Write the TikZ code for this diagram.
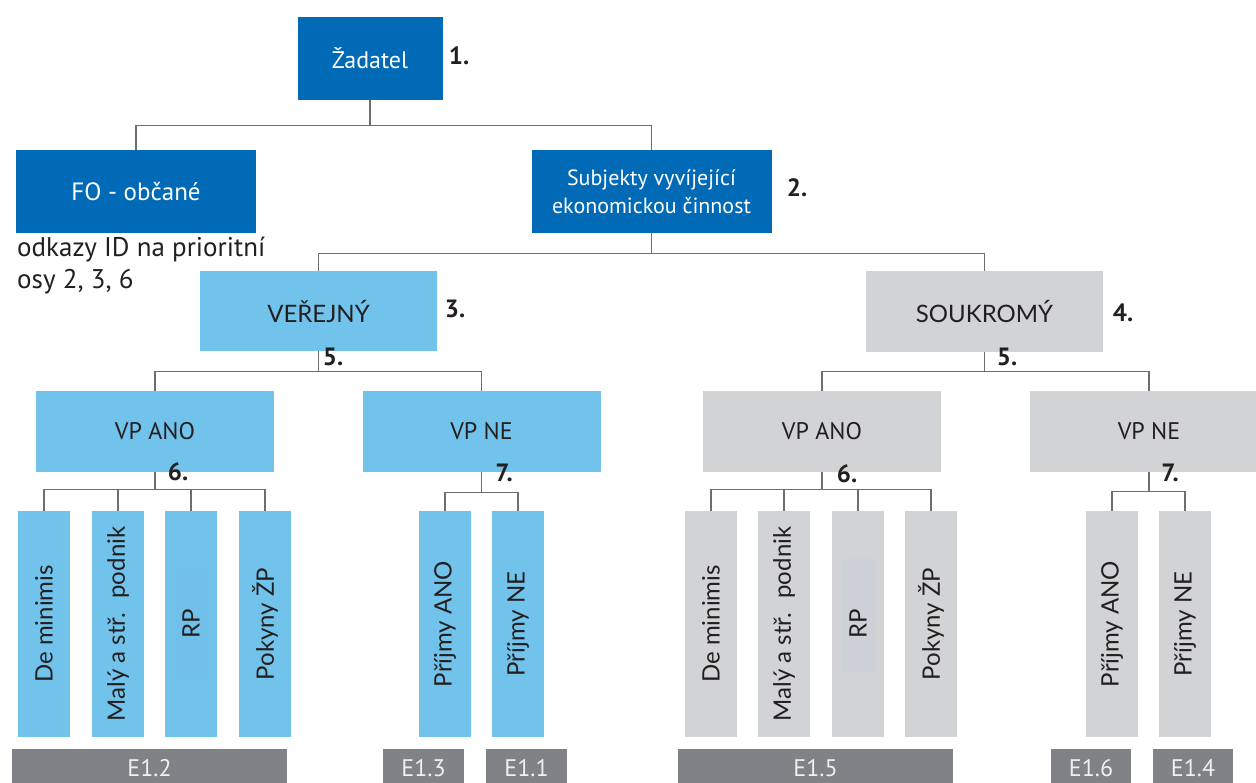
\documentclass[tikz,border=0pt]{standalone}
\usepackage{fontspec}
\setmainfont{PT Sans}
\newfontfamily\vfont{Lato}
\definecolor{dblue}{HTML}{006AB6}
\definecolor{lblue}{HTML}{72C3EC}
\definecolor{lgray}{HTML}{D1D3D4}
\definecolor{dgray}{HTML}{808285}
\definecolor{txt}{HTML}{231F20}
\definecolor{lineg}{HTML}{6D6E71}
\definecolor{rpinA}{HTML}{70C0E9}
\definecolor{rpinB}{HTML}{CBD1D7}
\begin{document}
\begin{tikzpicture}[x=1pt,y=-1pt,
  box/.style={draw=none, inner sep=0pt, align=center, font=\fontsize{24}{28}\selectfont},
  dk/.style={box, fill=dblue, text=white},
  lb/.style={box, fill=lblue, text=txt},
  gr/.style={box, fill=lgray, text=txt},
  capsf/.style={font=\vfont\fontsize{24}{28}\selectfont},
  lvl/.style={minimum width=238pt, minimum height=81pt},
  leafb/.style={inner sep=0pt, minimum width=52pt, minimum height=226pt},
  leaft/.style={rotate=90, inner sep=0pt, text=txt, font=\vfont\fontsize{24}{26}\selectfont},
  bar/.style={fill=dgray, inner sep=0pt, minimum height=44pt},
  bart/.style={inner sep=0pt, text=white!94!black, font=\fontsize{24}{26}\selectfont},
  num/.style={inner sep=0pt, text=txt, font=\bfseries\fontsize{25}{28}\selectfont},
  conn/.style={draw=lineg, line width=1.3pt}]
\useasboundingbox (0,0) rectangle (1256,783);

% level 0-1
\node[dk, minimum width=145pt, minimum height=83pt] (zad) at (370,58.5) {Žadatel};
\node[dk, minimum width=240pt, minimum height=83pt, font=\fontsize{25}{28}\selectfont] (fo) at (136,191.5) {FO - občané};
\node[dk, minimum width=240pt, minimum height=83pt, font=\fontsize{22}{28}\selectfont] (subj) at (651.5,191.5) {Subjekty vyvíjející\\ekonomickou činnost};
\node[anchor=west, align=left, inner sep=0pt, text=txt, font=\fontsize{27}{32}\selectfont] (note) at (17,266) {odkazy ID na prioritní\\osy 2, 3, 6};

% level 2
\node[lb, capsf, minimum width=237pt, minimum height=80pt] (ver) at (318.5,311) {VEŘEJNÝ};
\node[gr, capsf, minimum width=237pt, minimum height=81pt] (sou) at (984.5,311.5) {SOUKROMÝ};

% level 3
\node[lb, lvl] (vpa1) at (155,431.5) {VP ANO};
\node[lb, lvl] (vpn1) at (481.5,431.5) {VP NE};
\node[gr, lvl] (vpa2) at (822,431.5) {VP ANO};
\node[gr, lvl] (vpn2) at (1149,431.5) {VP NE};

% leaves
\node[leafb, fill=lblue] (l1) at (44,624) {};
\node[leafb, fill=lblue] (l2) at (118,624) {};
\node[leafb, fill=lblue] (l3) at (191,624) {};
\node[leafb, fill=lblue] (l4) at (265,624) {};
\node[leafb, fill=lblue] (l5) at (445,624) {};
\node[leafb, fill=lblue] (l6) at (518,624) {};
\node[leafb, fill=lgray] (r1) at (711,624) {};
\node[leafb, fill=lgray] (r2) at (784,624) {};
\node[leafb, fill=lgray] (r3) at (858,624) {};
\node[leafb, fill=lgray] (r4) at (931,624) {};
\node[leafb, fill=lgray] (r5) at (1112,624) {};
\node[leafb, fill=lgray] (r6) at (1185,624) {};
\fill[rpinA] (175,567) rectangle (208,680);
\fill[rpinB] (842,559) rectangle (876,672);
\node[leaft] (t1) at (l1.center) {De minimis};
\node[leaft] (t2) at (l2.center) {Malý a stř.~ podnik};
\node[leaft] (t3) at (l3.center) {RP};
\node[leaft] (t4) at (l4.center) {Pokyny ŽP};
\node[leaft] (t5) at (l5.center) {Příjmy ANO};
\node[leaft] (t6) at (l6.center) {Příjmy NE};
\node[leaft] (u1) at (r1.center) {De minimis};
\node[leaft] (u2) at (r2.center) {Malý a stř.~ podnik};
\node[leaft] (u3) at (r3.center) {RP};
\node[leaft] (u4) at (r4.center) {Pokyny ŽP};
\node[leaft] (u5) at (r5.center) {Příjmy ANO};
\node[leaft] (u6) at (r6.center) {Příjmy NE};

% bars
\node[bar, minimum width=275pt] (e12) at (149.5,771) {};
\node[bar, minimum width=81pt] (e13) at (423.5,771) {};
\node[bar, minimum width=81pt] (e11) at (526.5,771) {};
\node[bar, minimum width=275pt] (e15) at (815.5,771) {};
\node[bar, minimum width=80pt] (e16) at (1091,771) {};
\node[bar, minimum width=80pt] (e14) at (1193,771) {};
\node[bart] (e12t) at (149.5,768) {E1.2};
\node[bart] (e13t) at (423.5,768) {E1.3};
\node[bart] (e11t) at (526.5,768) {E1.1};
\node[bart] (e15t) at (815.5,768) {E1.5};
\node[bart] (e16t) at (1091,768) {E1.6};
\node[bart] (e14t) at (1193,768) {E1.4};

% numbers
\node[num] (n1) at (459,56) {1.};
\node[num] (n2) at (797,188) {2.};
\node[num] (n3) at (455,309) {3.};
\node[num] (n4) at (1123,313) {4.};
\node[num] (n5a) at (333,357) {5.};
\node[num] (n5b) at (1007,357) {5.};
\node[num] (n6a) at (178,472) {6.};
\node[num] (n7a) at (504,473) {7.};
\node[num] (n6b) at (847,474) {6.};
\node[num] (n7b) at (1170,473) {7.};

% connectors
\draw[conn] (zad.south) -- ++(0,25) -| (fo.north);
\draw[conn] (zad.south) ++(0,25) -| (subj.north);
\draw[conn] (subj.south) -- ++(0,20) -| (ver.north);
\draw[conn] (subj.south) ++(0,20) -| (sou.north);
\draw[conn] (ver.south) -- ++(0,20) -| (vpa1.north);
\draw[conn] (ver.south) ++(0,20) -| (vpn1.north);
\draw[conn] (sou.south) -- ++(0,19) -| (vpa2.north);
\draw[conn] (sou.south) ++(0,19) -| (vpn2.north);
\draw[conn] (vpa1.south) -- ++(0,17) -| (l1.north);
\draw[conn] (vpa1.south) ++(0,17) -| (l2.north);
\draw[conn] (vpa1.south) ++(0,17) -| (l3.north);
\draw[conn] (vpa1.south) ++(0,17) -| (l4.north);
\draw[conn] (vpn1.south) -- ++(0,20) -| (l5.north);
\draw[conn] (vpn1.south) ++(0,20) -| (l6.north);
\draw[conn] (vpa2.south) -- ++(0,17) -| (r1.north);
\draw[conn] (vpa2.south) ++(0,17) -| (r2.north);
\draw[conn] (vpa2.south) ++(0,17) -| (r3.north);
\draw[conn] (vpa2.south) ++(0,17) -| (r4.north);
\draw[conn] (vpn2.south) -- ++(0,19) -| (r5.north);
\draw[conn] (vpn2.south) ++(0,19) -| (r6.north);
\end{tikzpicture}
\end{document}
